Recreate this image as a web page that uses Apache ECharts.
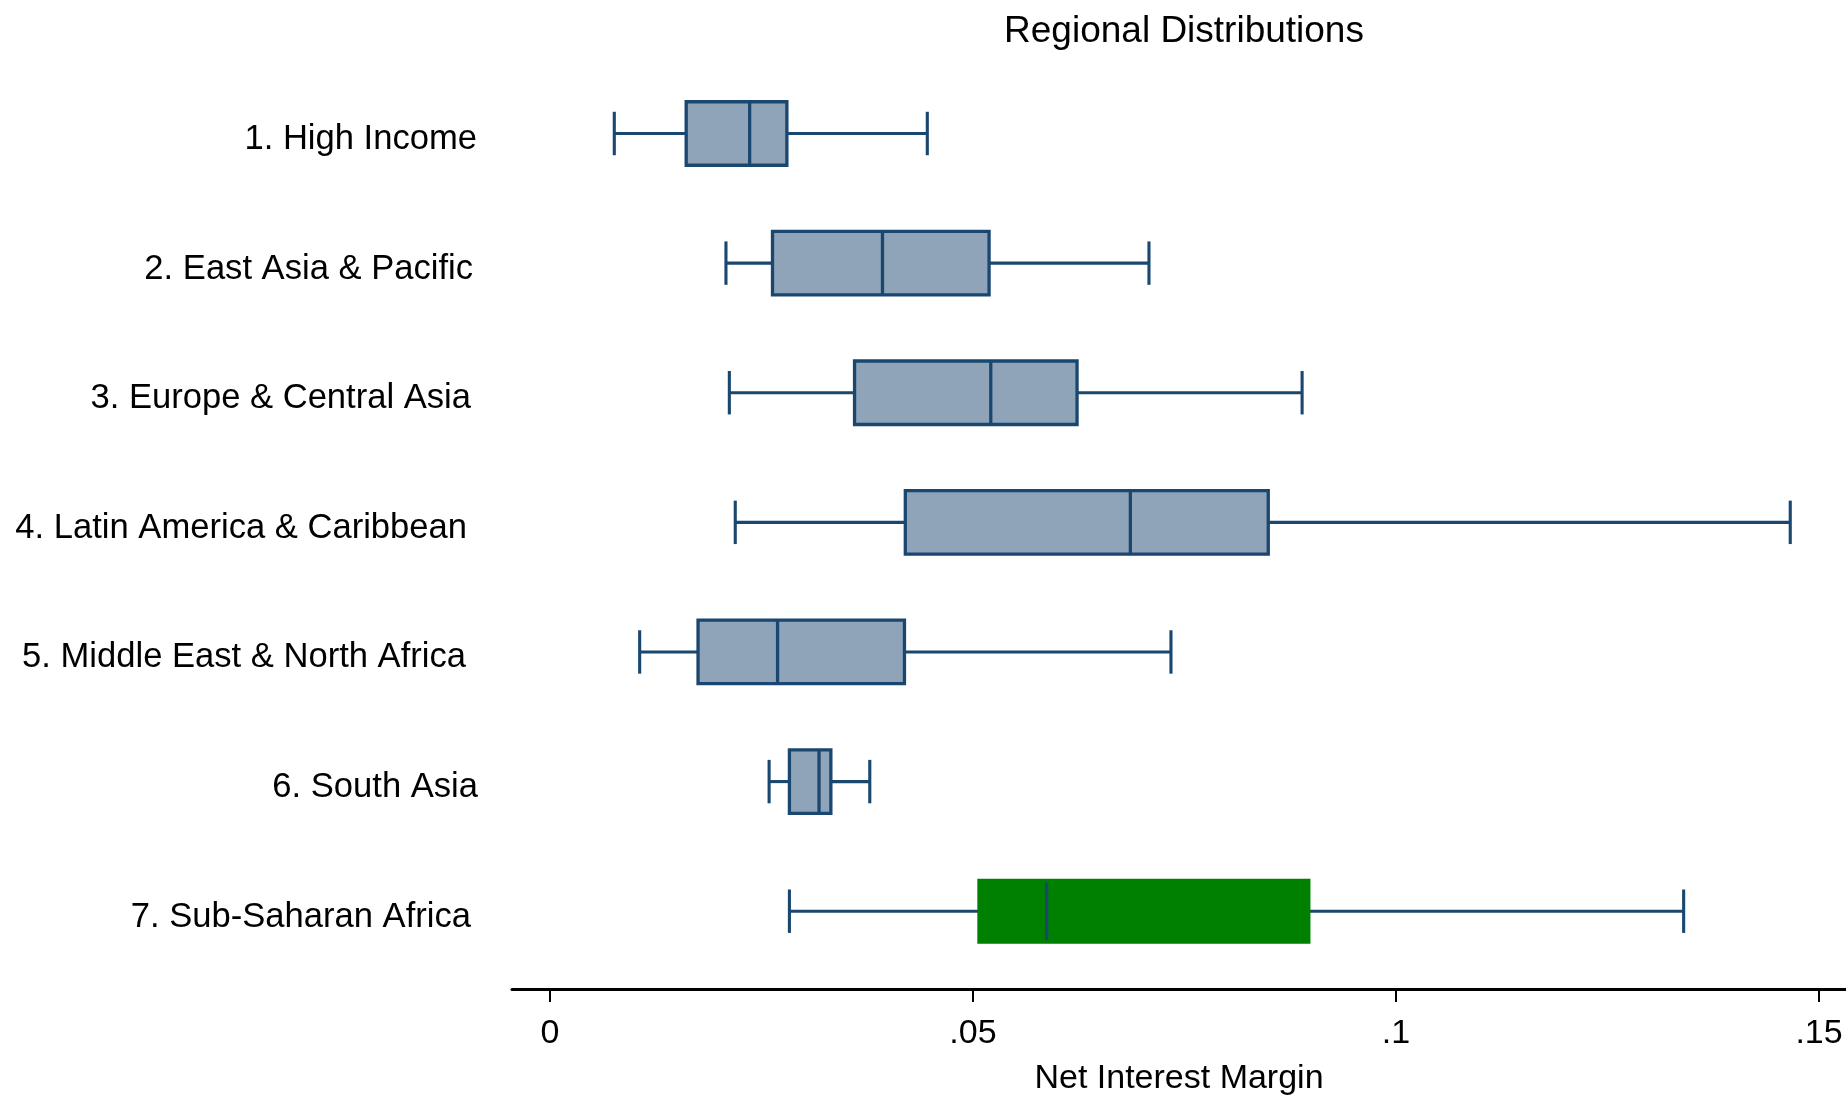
<!DOCTYPE html>
<html>
<head>
<meta charset="utf-8">
<script src="https://cdn.jsdelivr.net/npm/echarts@6/dist/echarts.min.js"></script>
<style>
html,body{margin:0;padding:0;background:#fff;}
#chart{width:1846px;height:1095px;}
</style>
</head>
<body>
<div id="chart"></div>
<script>
const categories = [
  '1. High Income',
  '2. East Asia & Pacific',
  '3. Europe & Central Asia',
  '4. Latin America & Caribbean',
  '5. Middle East & North Africa',
  '6. South Asia',
  '7. Sub-Saharan Africa'
];
const lowWhisker  = [0.0076, 0.0208, 0.0212, 0.0219, 0.0106, 0.0259, 0.0283];
const q1Values    = [0.0161, 0.0263, 0.0360, 0.0420, 0.0175, 0.0283, 0.0506];
const medianVals  = [0.0236, 0.0393, 0.0521, 0.0686, 0.0269, 0.0318, 0.0587];
const q3Values    = [0.0280, 0.0519, 0.0623, 0.0849, 0.0419, 0.0332, 0.0898];
const highWhisker = [0.0446, 0.0708, 0.0889, 0.1466, 0.0734, 0.0378, 0.1340];
const highlighted = [0, 0, 0, 0, 0, 0, 1];
const tickValues  = [0, 0.05, 0.1, 0.15];

// label right-edge gap from the plot (layout only)
const labelGap = [35, 39, 41, 45, 46, 34, 41];

const NAVY = '#1a476f';
const FILL = '#8fa4b8';
const GREEN = '#008000';
const FONT = "'Liberation Sans', Arial, sans-serif";

const data = categories.map((c, i) => [i, lowWhisker[i], q1Values[i], medianVals[i], q3Values[i], highWhisker[i], highlighted[i]]);

function renderItem(params, api) {
  const cat = api.value(0);
  const lo = api.coord([api.value(1), cat]);
  const q1 = api.coord([api.value(2), cat]);
  const md = api.coord([api.value(3), cat]);
  const q3 = api.coord([api.value(4), cat]);
  const hi = api.coord([api.value(5), cat]);
  const green = api.value(6) === 1;
  const band = api.size([0, 1])[1];
  const boxH = band * 0.49;
  const capH = band * 0.335;
  const y = lo[1];
  const lineStyle = {stroke: NAVY, lineWidth: 3.1};
  const children = [
    {type: 'line', shape: {x1: lo[0], y1: y, x2: q1[0], y2: y}, style: lineStyle},
    {type: 'line', shape: {x1: q3[0], y1: y, x2: hi[0], y2: y}, style: lineStyle},
    {type: 'line', shape: {x1: lo[0], y1: y - capH / 2, x2: lo[0], y2: y + capH / 2}, style: lineStyle},
    {type: 'line', shape: {x1: hi[0], y1: y - capH / 2, x2: hi[0], y2: y + capH / 2}, style: lineStyle},
    {type: 'rect', shape: {x: q1[0], y: y - boxH / 2, width: q3[0] - q1[0], height: boxH},
      style: green ? {fill: GREEN, stroke: GREEN, lineWidth: 1.5} : {fill: FILL, stroke: NAVY, lineWidth: 3.3}},
    {type: 'line', shape: {x1: md[0], y1: y - boxH / 2 + (green ? 3 : 0), x2: md[0], y2: y + boxH / 2 - (green ? 3 : 0)},
      style: {stroke: NAVY, lineWidth: 3.3}}
  ];
  return {type: 'group', children: children};
}

const chart = echarts.init(document.getElementById('chart'), null, {renderer: 'canvas'});
chart.setOption({
  animation: false,
  backgroundColor: '#ffffff',
  title: {
    text: 'Regional Distributions',
    left: 1179,
    textAlign: 'center',
    top: 8,
    textStyle: {fontFamily: FONT, fontSize: 37, fontWeight: 'normal', color: '#000'}
  },
  grid: {left: 512, right: 0, top: 68.7, bottom: 119, containLabel: false, outerBoundsMode: 'none'},
  xAxis: {
    type: 'value',
    min: -0.00449,
    max: 0.15319,
    offset: 13,
    splitLine: {show: false},
    axisLine: {show: true, lineStyle: {color: '#000', width: 3}},
    axisTick: {show: true, length: 13, lineStyle: {color: '#000', width: 2}, customValues: tickValues},
    axisLabel: {
      customValues: tickValues,
      margin: 28,
      fontFamily: FONT, fontSize: 34, color: '#000',
      formatter: v => (v === 0 ? '0' : String(+v.toFixed(4)).replace(/^0\./, '.'))
    },
    name: 'Net Interest Margin',
    nameLocation: 'middle',
    nameGap: 73,
    nameTextStyle: {fontFamily: FONT, fontSize: 34, color: '#000'}
  },
  yAxis: {
    type: 'category',
    data: categories.map((c, i) => ({
      value: c,
      textStyle: {padding: [0, labelGap[i] - 35, 0, 0]}
    })),
    inverse: true,
    axisLine: {show: false},
    axisTick: {show: false},
    splitLine: {show: false},
    axisLabel: {
      margin: 35,
      fontFamily: FONT, fontSize: 34.6, color: '#000',
      formatter: v => '{s| }\n{t|' + v + '}',
      rich: {
        s: {fontSize: 10, height: 12, lineHeight: 12},
        t: {fontFamily: FONT, fontSize: 34.6, color: '#000', lineHeight: 40}
      }
    }
  },
  series: [{
    type: 'custom',
    renderItem: renderItem,
    encode: {x: [1, 2, 3, 4, 5], y: 0},
    data: data
  }]
});
</script>
</body>
</html>
